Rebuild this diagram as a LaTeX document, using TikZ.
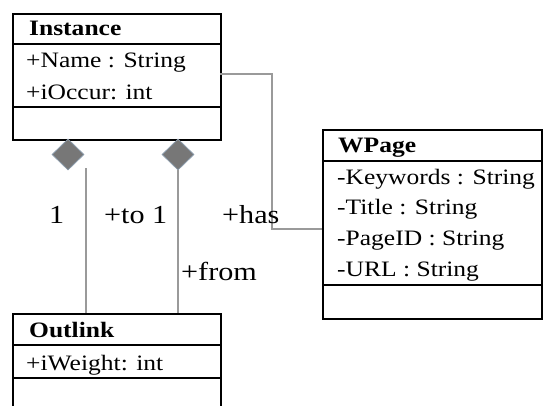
\documentclass[tikz,border=0pt]{standalone}
\usepackage{fontspec}
\setmainfont{Liberation Serif}[FakeStretch=1.16]
\usetikzlibrary{shapes.geometric}
\definecolor{linkgray}{HTML}{9A9A9A}
\definecolor{diafill}{HTML}{777777}
\definecolor{diaedge}{HTML}{8A9AAA}
\tikzset{
  classbox/.style={draw=black, line width=1.6pt, rectangle, inner sep=0pt, anchor=north west},
  sep/.style={draw=black, line width=1.6pt},
  attr/.style={anchor=base west, inner sep=0pt, font=\fontsize{22}{26}\selectfont},
  ctitle/.style={anchor=base west, inner sep=0pt, font=\fontsize{22}{26}\selectfont\bfseries},
  rolelabel/.style={anchor=base west, inner sep=0pt, font=\fontsize{26}{30}\selectfont},
  link/.style={draw=linkgray, line width=1.4pt},
  aggr/.style={diamond, aspect=1, inner sep=0pt, minimum width=32pt, minimum height=31pt,
    fill=diafill, draw=diaedge, line width=0.8pt}
}
\begin{document}
\begin{tikzpicture}[x=1pt, y=-1pt]
\useasboundingbox (0,0) rectangle (556,405);
\clip (0,0) rectangle (556,405);
\fill[white] (0,0) rectangle (556,405);

% class Instance
\node[classbox, minimum width=208pt, minimum height=126pt] (inst) at (12,13) {};
\draw[sep] (12,44) -- (220,44);
\draw[sep] (12,107) -- (220,107);
\node[ctitle] (instT) at (29,35) {Instance};
\node[attr] (instA1) at (26,67) {+Name : String};
\node[attr] (instA2) at (26,99) {+iOccur: int};

% class WPage
\node[classbox, minimum width=219pt, minimum height=189pt] (wpage) at (322,129) {};
\draw[sep] (322,161) -- (541,161);
\draw[sep] (322,285) -- (541,285);
\node[ctitle] (wpT) at (338,152) {WPage};
\node[attr] (wpA1) at (337,184) {-Keywords : String};
\node[attr] (wpA2) at (337,214) {-Title : String};
\node[attr] (wpA3) at (337,245) {-PageID : String};
\node[attr] (wpA4) at (337,276) {-URL : String};

% class Outlink (runs off the bottom edge)
\node[classbox, minimum width=208pt, minimum height=120pt] (outl) at (12,313) {};
\draw[sep] (12,345) -- (220,345);
\draw[sep] (12,378) -- (220,378);
\node[ctitle] (olT) at (29,337) {Outlink};
\node[attr] (olA1) at (26,370) {+iWeight: int};

% aggregation diamonds under Instance
\node[aggr] (d1) at (68,154.5) {};
\node[aggr] (d2) at (178,154.5) {};

% connectors
\coordinate (l1top) at (86,168);
\coordinate (l1bot) at (86,313);
\draw[link] (l1top) -- (l1bot);
\coordinate (l2bot) at (178,313);
\draw[link] (d2.south) -- (l2bot);
\coordinate (hasA) at (220,74);
\coordinate (hasB) at (322,229);
\draw[link] (hasA) -- (272,74) -- (272,229) -- (hasB);

% role labels
\node[rolelabel] (lab1) at (49,223) {1};
\node[rolelabel] (labto) at (104,223) {+to 1};
\node[rolelabel] (labhas) at (222,223) {+has};
\node[rolelabel] (labfrom) at (181,280) {+from};
\end{tikzpicture}
\end{document}
